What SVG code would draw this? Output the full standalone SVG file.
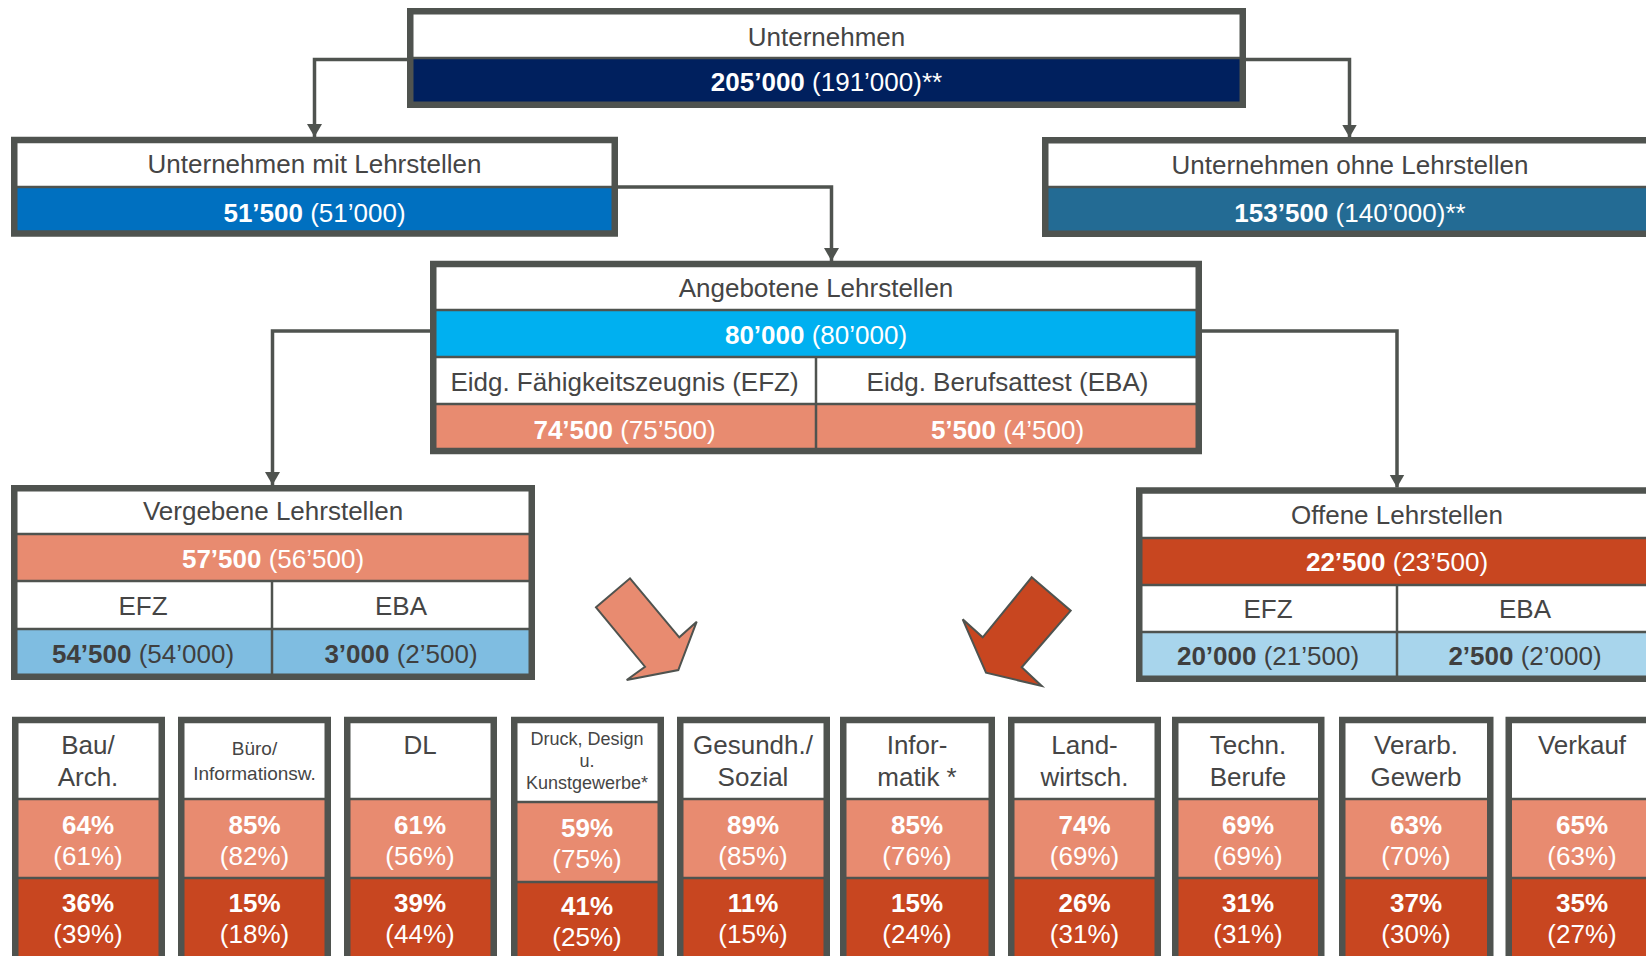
<svg xmlns="http://www.w3.org/2000/svg" width="1646" height="956" viewBox="0 0 1646 956">
<defs>
<style>
.t{font-family:"Liberation Sans",Arial,Helvetica,sans-serif;font-size:26px;text-anchor:middle}
.hd{fill:#454545}
.wv{fill:#ffffff}
.dv{fill:#3f3f3f}
.b{font-weight:bold}
.sm{font-size:19px}
.xs{font-size:18px}
.ob{fill:none;stroke:#4F534F;stroke-width:6.5}
.dl{stroke:#4F534F;stroke-width:2.5}
.cn{fill:none;stroke:#4F534F;stroke-width:3.5;marker-end:url(#ah)}
.ar{stroke:#4F534F;stroke-width:2;stroke-linejoin:miter}
.wh{fill:#ffffff}
.sal{fill:#E88B70}
.red{fill:#C84620}
</style>
<marker id="ah" markerUnits="userSpaceOnUse" markerWidth="14" markerHeight="16" viewBox="0 0 14 16" refX="13" refY="8" orient="auto">
<path d="M0,0.5 L13,8 L0,15.5 Z" fill="#4F534F"/>
</marker>
</defs>
<rect width="1646" height="956" fill="#ffffff"/>

<g id="connectors">
<polyline class="cn" points="407,59.5 314.5,59.5 314.5,137"/>
<polyline class="cn" points="1246,59.5 1349.5,59.5 1349.5,137.5"/>
<polyline class="cn" points="618,187 831.5,187 831.5,261"/>
<polyline class="cn" points="430,331 272.5,331 272.5,485"/>
<polyline class="cn" points="1202,331 1397,331 1397,487.5"/>
</g>

<g id="unternehmen">
<rect class="wh" x="410" y="11" width="833" height="47"/>
<rect x="410" y="58" width="833" height="46" fill="#00205E"/>
<line class="dl" x1="410" y1="58" x2="1243" y2="58"/>
<rect class="ob" x="410.25" y="11.25" width="832.5" height="93.5"/>
<text class="t hd" x="826.5" y="46">Unternehmen</text>
<text class="t wv" x="826.5" y="90.5"><tspan class="b">205’000</tspan> (191’000)**</text>
</g>

<g id="mit-lehrstellen">
<rect class="wh" x="14" y="140" width="601" height="47"/>
<rect x="14" y="187" width="601" height="47" fill="#0070C0"/>
<line class="dl" x1="14" y1="187" x2="615" y2="187"/>
<rect class="ob" x="14.25" y="140" width="600.5" height="93.5"/>
<text class="t hd" x="314.5" y="173">Unternehmen mit Lehrstellen</text>
<text class="t wv" x="314.5" y="221.5"><tspan class="b">51’500</tspan> (51’000)</text>
</g>

<g id="ohne-lehrstellen">
<rect class="wh" x="1045" y="140" width="610" height="47"/>
<rect x="1045" y="187" width="610" height="47" fill="#236B94"/>
<line class="dl" x1="1045" y1="187" x2="1655" y2="187"/>
<rect class="ob" x="1045.25" y="140.25" width="609.5" height="93.5"/>
<text class="t hd" x="1350" y="174">Unternehmen ohne Lehrstellen</text>
<text class="t wv" x="1350" y="222"><tspan class="b">153’500</tspan> (140’000)**</text>
</g>

<g id="angebotene">
<rect class="wh" x="433" y="264" width="766" height="46"/>
<rect x="433" y="310" width="766" height="47" fill="#00B0F0"/>
<rect class="wh" x="433" y="357" width="766" height="47"/>
<rect class="sal" x="433" y="404" width="766" height="47"/>
<line class="dl" x1="433" y1="310" x2="1199" y2="310"/>
<line class="dl" x1="433" y1="357" x2="1199" y2="357"/>
<line class="dl" x1="433" y1="404" x2="1199" y2="404"/>
<line class="dl" x1="816" y1="357" x2="816" y2="451"/>
<rect class="ob" x="433.25" y="264" width="765.5" height="187"/>
<text class="t hd" x="816" y="297">Angebotene Lehrstellen</text>
<text class="t wv" x="816" y="343.5"><tspan class="b">80’000</tspan> (80’000)</text>
<text class="t hd" x="624.5" y="390.5">Eidg. Fähigkeitszeugnis (EFZ)</text>
<text class="t hd" x="1007.5" y="390.5">Eidg. Berufsattest (EBA)</text>
<text class="t wv" x="624.5" y="438.5"><tspan class="b">74’500</tspan> (75’500)</text>
<text class="t wv" x="1007.5" y="438.5"><tspan class="b">5’500</tspan> (4’500)</text>
</g>

<g id="vergebene">
<rect class="wh" x="14" y="488" width="518" height="46"/>
<rect class="sal" x="14" y="534" width="518" height="47"/>
<rect class="wh" x="14" y="581" width="518" height="48"/>
<rect x="14" y="629" width="518" height="48" fill="#7FBDE1"/>
<line class="dl" x1="14" y1="534" x2="532" y2="534"/>
<line class="dl" x1="14" y1="581" x2="532" y2="581"/>
<line class="dl" x1="14" y1="629" x2="532" y2="629"/>
<line class="dl" x1="272" y1="581" x2="272" y2="677"/>
<rect class="ob" x="14.25" y="488.25" width="517.5" height="188.5"/>
<text class="t hd" x="273" y="520">Vergebene Lehrstellen</text>
<text class="t wv" x="273" y="568"><tspan class="b">57’500</tspan> (56’500)</text>
<text class="t hd" x="143" y="615">EFZ</text>
<text class="t hd" x="401" y="615">EBA</text>
<text class="t dv" x="143" y="663"><tspan class="b">54’500</tspan> (54’000)</text>
<text class="t dv" x="401" y="663"><tspan class="b">3’000</tspan> (2’500)</text>
</g>

<g id="offene">
<rect class="wh" x="1139" y="490" width="516" height="48"/>
<rect class="red" x="1139" y="538" width="516" height="47"/>
<rect class="wh" x="1139" y="585" width="516" height="47"/>
<rect x="1139" y="632" width="516" height="47" fill="#A8D5EC"/>
<line class="dl" x1="1139" y1="538" x2="1655" y2="538"/>
<line class="dl" x1="1139" y1="585" x2="1655" y2="585"/>
<line class="dl" x1="1139" y1="632" x2="1655" y2="632"/>
<line class="dl" x1="1397" y1="585" x2="1397" y2="679"/>
<rect class="ob" x="1139.25" y="490.5" width="515.5" height="188.25"/>
<text class="t hd" x="1397" y="524">Offene Lehrstellen</text>
<text class="t wv" x="1397" y="571"><tspan class="b">22’500</tspan> (23’500)</text>
<text class="t hd" x="1268" y="617.5">EFZ</text>
<text class="t hd" x="1525" y="617.5">EBA</text>
<text class="t dv" x="1268" y="664.5"><tspan class="b">20’000</tspan> (21’500)</text>
<text class="t dv" x="1525" y="664.5"><tspan class="b">2’500</tspan> (2’000)</text>
</g>

<g id="arrow-vergebene">
<polygon class="ar sal" points="596,607.3 630,578.3 679.3,637.3 696.7,621.7 678.3,670 626.7,680 645,666.7"/>
</g>
<g id="arrow-offene">
<polygon class="ar red" points="1031.7,577.3 1070.7,610.7 1021.7,667.3 1041.7,686 986,672.7 962.7,619.3 982.7,637.3"/>
</g>

<g id="cat-bau">
<rect class="wh" x="15" y="720" width="146" height="79"/>
<rect class="sal" x="15" y="799" width="146" height="79"/>
<rect class="red" x="15" y="878" width="146" height="90"/>
<line class="dl" x1="15" y1="799" x2="161" y2="799"/>
<line class="dl" x1="15" y1="878" x2="161" y2="878"/>
<rect class="ob" x="15.25" y="720" width="146.5" height="300"/>
<text class="t hd" x="88" y="754">Bau/</text>
<text class="t hd" x="88" y="786">Arch.</text>
<text class="t wv b" x="88" y="834">64%</text>
<text class="t wv" x="88" y="865">(61%)</text>
<text class="t wv b" x="88" y="912">36%</text>
<text class="t wv" x="88" y="943">(39%)</text>
</g>

<g id="cat-buero">
<rect class="wh" x="181" y="720" width="146" height="79"/>
<rect class="sal" x="181" y="799" width="146" height="79"/>
<rect class="red" x="181" y="878" width="146" height="90"/>
<line class="dl" x1="181" y1="799" x2="327" y2="799"/>
<line class="dl" x1="181" y1="878" x2="327" y2="878"/>
<rect class="ob" x="181.25" y="720" width="146.5" height="300"/>
<text class="t hd sm" x="254.5" y="755">Büro/</text>
<text class="t hd sm" x="254.5" y="780">Informationsw.</text>
<text class="t wv b" x="254.5" y="834">85%</text>
<text class="t wv" x="254.5" y="865">(82%)</text>
<text class="t wv b" x="254.5" y="912">15%</text>
<text class="t wv" x="254.5" y="943">(18%)</text>
</g>

<g id="cat-dl">
<rect class="wh" x="347" y="720" width="146" height="79"/>
<rect class="sal" x="347" y="799" width="146" height="79"/>
<rect class="red" x="347" y="878" width="146" height="90"/>
<line class="dl" x1="347" y1="799" x2="493" y2="799"/>
<line class="dl" x1="347" y1="878" x2="493" y2="878"/>
<rect class="ob" x="347.25" y="720" width="146.5" height="300"/>
<text class="t hd" x="420" y="754">DL</text>
<text class="t wv b" x="420" y="834">61%</text>
<text class="t wv" x="420" y="865">(56%)</text>
<text class="t wv b" x="420" y="912">39%</text>
<text class="t wv" x="420" y="943">(44%)</text>
</g>

<g id="cat-druck">
<rect class="wh" x="514" y="720" width="146" height="82"/>
<rect class="sal" x="514" y="802" width="146" height="80"/>
<rect class="red" x="514" y="882" width="146" height="90"/>
<line class="dl" x1="514" y1="802" x2="660" y2="802"/>
<line class="dl" x1="514" y1="882" x2="660" y2="882"/>
<rect class="ob" x="514.25" y="720" width="146.5" height="300"/>
<text class="t hd xs" x="587" y="745">Druck, Design</text>
<text class="t hd xs" x="587" y="767">u.</text>
<text class="t hd xs" x="587" y="788.5">Kunstgewerbe*</text>
<text class="t wv b" x="587" y="837">59%</text>
<text class="t wv" x="587" y="868">(75%)</text>
<text class="t wv b" x="587" y="915">41%</text>
<text class="t wv" x="587" y="946">(25%)</text>
</g>

<g id="cat-gesundh">
<rect class="wh" x="680" y="720" width="146" height="79"/>
<rect class="sal" x="680" y="799" width="146" height="79"/>
<rect class="red" x="680" y="878" width="146" height="90"/>
<line class="dl" x1="680" y1="799" x2="826" y2="799"/>
<line class="dl" x1="680" y1="878" x2="826" y2="878"/>
<rect class="ob" x="680.25" y="720" width="146.5" height="300"/>
<text class="t hd" x="753" y="754">Gesundh./</text>
<text class="t hd" x="753" y="786">Sozial</text>
<text class="t wv b" x="753" y="834">89%</text>
<text class="t wv" x="753" y="865">(85%)</text>
<text class="t wv b" x="753" y="912">11%</text>
<text class="t wv" x="753" y="943">(15%)</text>
</g>

<g id="cat-informatik">
<rect class="wh" x="843" y="720" width="149" height="79"/>
<rect class="sal" x="843" y="799" width="149" height="79"/>
<rect class="red" x="843" y="878" width="149" height="90"/>
<line class="dl" x1="843" y1="799" x2="992" y2="799"/>
<line class="dl" x1="843" y1="878" x2="992" y2="878"/>
<rect class="ob" x="843.25" y="720" width="148.5" height="300"/>
<text class="t hd" x="917" y="754">Infor-</text>
<text class="t hd" x="917" y="786">matik *</text>
<text class="t wv b" x="917" y="834">85%</text>
<text class="t wv" x="917" y="865">(76%)</text>
<text class="t wv b" x="917" y="912">15%</text>
<text class="t wv" x="917" y="943">(24%)</text>
</g>

<g id="cat-landwirtsch">
<rect class="wh" x="1011" y="720" width="147" height="79"/>
<rect class="sal" x="1011" y="799" width="147" height="79"/>
<rect class="red" x="1011" y="878" width="147" height="90"/>
<line class="dl" x1="1011" y1="799" x2="1158" y2="799"/>
<line class="dl" x1="1011" y1="878" x2="1158" y2="878"/>
<rect class="ob" x="1011.25" y="720" width="146.5" height="300"/>
<text class="t hd" x="1084.5" y="754">Land-</text>
<text class="t hd" x="1084.5" y="786">wirtsch.</text>
<text class="t wv b" x="1084.5" y="834">74%</text>
<text class="t wv" x="1084.5" y="865">(69%)</text>
<text class="t wv b" x="1084.5" y="912">26%</text>
<text class="t wv" x="1084.5" y="943">(31%)</text>
</g>

<g id="cat-techn">
<rect class="wh" x="1175" y="720" width="146" height="79"/>
<rect class="sal" x="1175" y="799" width="146" height="79"/>
<rect class="red" x="1175" y="878" width="146" height="90"/>
<line class="dl" x1="1175" y1="799" x2="1321" y2="799"/>
<line class="dl" x1="1175" y1="878" x2="1321" y2="878"/>
<rect class="ob" x="1175.25" y="720" width="146" height="300"/>
<text class="t hd" x="1248" y="754">Techn.</text>
<text class="t hd" x="1248" y="786">Berufe</text>
<text class="t wv b" x="1248" y="834">69%</text>
<text class="t wv" x="1248" y="865">(69%)</text>
<text class="t wv b" x="1248" y="912">31%</text>
<text class="t wv" x="1248" y="943">(31%)</text>
</g>

<g id="cat-verarb">
<rect class="wh" x="1342" y="720" width="148" height="79"/>
<rect class="sal" x="1342" y="799" width="148" height="79"/>
<rect class="red" x="1342" y="878" width="148" height="90"/>
<line class="dl" x1="1342" y1="799" x2="1490" y2="799"/>
<line class="dl" x1="1342" y1="878" x2="1490" y2="878"/>
<rect class="ob" x="1342.25" y="720" width="148" height="300"/>
<text class="t hd" x="1416" y="754">Verarb.</text>
<text class="t hd" x="1416" y="786">Gewerb</text>
<text class="t wv b" x="1416" y="834">63%</text>
<text class="t wv" x="1416" y="865">(70%)</text>
<text class="t wv b" x="1416" y="912">37%</text>
<text class="t wv" x="1416" y="943">(30%)</text>
</g>

<g id="cat-verkauf">
<rect class="wh" x="1509" y="720" width="146" height="79"/>
<rect class="sal" x="1509" y="799" width="146" height="79"/>
<rect class="red" x="1509" y="878" width="146" height="90"/>
<line class="dl" x1="1509" y1="799" x2="1655" y2="799"/>
<line class="dl" x1="1509" y1="878" x2="1655" y2="878"/>
<rect class="ob" x="1508.75" y="720" width="146.5" height="300"/>
<text class="t hd" x="1582" y="754">Verkauf</text>
<text class="t wv b" x="1582" y="834">65%</text>
<text class="t wv" x="1582" y="865">(63%)</text>
<text class="t wv b" x="1582" y="912">35%</text>
<text class="t wv" x="1582" y="943">(27%)</text>
</g>
</svg>
